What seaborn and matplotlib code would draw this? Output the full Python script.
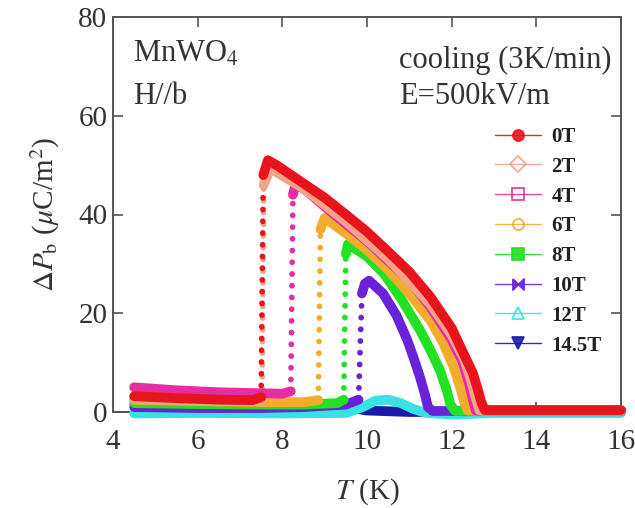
import numpy as np
import pandas as pd
import matplotlib
matplotlib.use("Agg")
import matplotlib.pyplot as plt
from matplotlib.lines import Line2D
import seaborn as sns

# ---------------- data ----------------
fields = ["0T", "2T", "4T", "6T", "8T", "10T", "12T", "14.5T"]

T_0T = [4.5, 5.5, 6.5, 7.3, 7.5, 7.55, 7.66, 7.9, 8.5, 9.0, 9.5, 10.0, 10.5, 11.0, 11.5, 12.0, 12.13, 12.3, 12.5, 12.62, 12.7, 12.78, 13.5, 14.5, 15.5, 16.0]
P_0T = [3.2, 2.8, 2.5, 2.4, 3.0, 48.0, 51.0, 49.8, 46.3, 43.4, 40.0, 36.5, 32.5, 28.4, 23.3, 17.0, 14.6, 11.5, 7.9, 4.5, 2.0, 0.4, 0.4, 0.4, 0.4, 0.4]

T_2T = [4.5, 6.0, 7.4, 7.52, 7.56, 7.72, 8.5, 9.5, 10.5, 11.5, 12.0, 12.3, 12.45, 12.58, 12.66, 14.0, 16.0]
P_2T = [2.6, 2.3, 2.2, 2.4, 46.0, 49.3, 45.3, 38.6, 31.0, 21.8, 15.6, 10.6, 6.6, 2.5, 0.3, 0.3, 0.3]

T_4T = [4.5, 5.5, 6.5, 7.5, 8.0, 8.2, 8.25, 8.32, 8.6, 9.0, 10.0, 11.0, 11.5, 12.0, 12.25, 12.4, 12.5, 12.57, 14.0, 16.0]
P_4T = [5.0, 4.4, 4.0, 3.8, 3.7, 4.2, 44.0, 46.4, 44.6, 41.6, 34.6, 26.6, 21.2, 14.6, 10.2, 6.0, 2.5, 0.3, 0.3, 0.3]

T_6T = [4.5, 6.0, 7.5, 8.5, 8.85, 8.9, 9.0, 9.5, 10.0, 10.5, 11.0, 11.5, 11.8, 12.05, 12.2, 12.3, 12.38, 16.0]
P_6T = [2.5, 2.2, 2.0, 2.0, 2.4, 37.0, 39.3, 36.2, 32.8, 28.8, 24.0, 18.5, 14.0, 9.0, 5.0, 2.0, 0.3, 0.3]

T_8T = [4.5, 6.0, 7.5, 8.5, 9.3, 9.45, 9.5, 9.55, 10.0, 10.4, 10.8, 11.25, 11.5, 11.72, 11.88, 11.97, 12.08, 16.0]
P_8T = [1.8, 1.6, 1.5, 1.5, 1.8, 2.5, 32.0, 34.0, 31.5, 28.0, 23.0, 16.6, 12.5, 8.5, 4.5, 1.5, 0.2, 0.2]

T_10T = [4.5, 6.0, 7.5, 8.5, 9.5, 9.8, 9.88, 9.95, 10.05, 10.38, 10.7, 10.95, 11.1, 11.25, 11.37, 11.44, 11.55, 16.0]
P_10T = [1.0, 0.8, 0.8, 1.0, 1.5, 2.5, 24.0, 26.0, 26.6, 24.0, 19.5, 14.6, 11.0, 7.1, 3.5, 1.0, 0.2, 0.2]

T_12T = [4.5, 6.0, 8.0, 9.5, 9.9, 10.2, 10.5, 10.8, 11.1, 11.4, 12.0, 13.0, 16.0]
P_12T = [-0.3, -0.2, -0.3, -0.2, 1.0, 2.3, 2.5, 1.8, 0.6, -0.2, -0.5, -0.2, -0.2]

T_145T = [4.55, 6.0, 8.0, 9.5, 10.0, 11.0, 12.0, 14.0, 16.0]
P_145T = [0.2, 0.4, 0.8, 1.0, 0.3, 0.0, 0.0, 0.0, 0.0]

colors = {"0T": "#e8141c", "2T": "#f2a488", "4T": "#e42ea2", "6T": "#f3ad2c",
          "8T": "#22e022", "10T": "#6a22d8", "12T": "#38e2e2", "14.5T": "#1a1aa8"}

series = {"0T": (T_0T, P_0T), "2T": (T_2T, P_2T), "4T": (T_4T, P_4T), "6T": (T_6T, P_6T),
          "8T": (T_8T, P_8T), "10T": (T_10T, P_10T), "12T": (T_12T, P_12T), "14.5T": (T_145T, P_145T)}

# split each series into thick "band" runs and the steep rising jump runs
band_rows, jump_rows = [], []
unit = 0
for f in fields:
    T, P = series[f]
    kind_prev = None
    for i in range(len(T) - 1):
        kind = "jump" if (P[i + 1] - P[i]) > 8 else "band"
        target = jump_rows if kind == "jump" else band_rows
        if kind != kind_prev:
            unit += 1
            target.append({"T": T[i], "P": P[i], "field": f, "unit": unit})
        target.append({"T": T[i + 1], "P": P[i + 1], "field": f, "unit": unit})
        kind_prev = kind
df_band = pd.DataFrame(band_rows)
df_jump = pd.DataFrame(jump_rows)

# ---------------- style ----------------
sns.set_style("ticks")
plt.rcParams["font.family"] = ["Liberation Serif", "DejaVu Serif"]
plt.rcParams["mathtext.fontset"] = "stix"

fig = plt.figure(figsize=(6.35, 5.08), dpi=100)
ax = fig.add_axes([113 / 635, 1 - 412 / 508, (621 - 113) / 635, (412 - 17) / 508])

draw_order = ["14.5T", "12T", "10T", "8T", "6T", "4T", "2T", "0T"]
sns.lineplot(data=df_jump, x="T", y="P", hue="field", hue_order=draw_order,
             units="unit", palette=colors, sort=False, estimator=None,
             linewidth=4.2, legend=False, ax=ax)
n_jump = len(ax.lines)
for ln in ax.lines:
    ln.set_linestyle((0, (0.01, 2.0)))
    ln.set_dash_capstyle("round")
    ln.set_clip_on(False)
    ln.set_zorder(3)

sns.lineplot(data=df_band, x="T", y="P", hue="field", hue_order=draw_order,
             units="unit", palette=colors, sort=False, estimator=None,
             linewidth=7, legend=False, ax=ax)
for ln in ax.lines[n_jump:]:
    ln.set_clip_on(False)
    ln.set_zorder(3)
    ln.set_solid_capstyle("round")
    ln.set_solid_joinstyle("round")

ax.set_xlim(4, 16)
ax.set_ylim(0, 80)
ax.set_xticks([4, 6, 8, 10, 12, 14, 16])
ax.set_yticks([0, 20, 40, 60, 80])

gray = "#555555"
for s in ax.spines.values():
    s.set_color(gray)
    s.set_linewidth(1.4)
    s.set_zorder(2)
ax.tick_params(direction="in", top=True, right=True, length=7, width=1.2,
               color=gray, labelcolor="#333333", labelsize=21)
ax.tick_params(axis="x", pad=12)
ax.tick_params(axis="y", pad=4)

ax.set_xlabel(r"$T$ (K)", fontsize=21, color="#333333", va="center")
ax.xaxis.set_label_coords(0.5, (412 - 492) / 395)
ax.set_ylabel(r"$\Delta P_{\rm b}$ ($\mu$C/m$^2$)", fontsize=21, color="#333333", va="center")
ax.yaxis.set_label_coords((45 - 113) / 508, 0.5)

# annotations
def px(x, y):
    return ((x - 113) / 508, (412 - y) / 395)

ax.text(*px(133, 62), r"MnWO$_4$", transform=ax.transAxes, fontsize=22, color="#333333", va="baseline")
ax.text(*px(133, 104), "H//b", transform=ax.transAxes, fontsize=22, color="#333333", va="baseline")
ax.text(*px(399, 68), "cooling (3K/min)", transform=ax.transAxes, fontsize=22, color="#333333", va="baseline")
ax.text(*px(399, 104), "E=500kV/m", transform=ax.transAxes, fontsize=22, color="#333333", va="baseline")

# legend
bowtie = [(-1, 1), (-1, -1), (0, 0), (1, -1), (1, 1), (0, 0), (-1, 1)]
markers = {"0T": ("o", True), "2T": ("D", False), "4T": ("s", False), "6T": ("o", False),
           "8T": ("s", True), "10T": (bowtie, True), "12T": ("^", False), "14.5T": ("v", True)}
handles = []
for f in fields:
    m, filled = markers[f]
    c = colors[f]
    handles.append(Line2D([0], [0], color=c, lw=1.0, alpha=0.9, marker=m, markersize=8,
                          markerfacecolor=c if filled else "none",
                          markeredgecolor=c, markeredgewidth=1.3, label=f))
leg = ax.legend(handles=handles, loc="upper left", bbox_to_anchor=px(495, 127),
                frameon=False, borderpad=0, borderaxespad=0, handlelength=2.2,
                handletextpad=0.5, labelspacing=0.47,
                prop={"family": "Liberation Serif", "weight": "bold", "size": 15})
for t in leg.get_texts():
    t.set_color("#222222")

fig.savefig("out.png", dpi=100)
